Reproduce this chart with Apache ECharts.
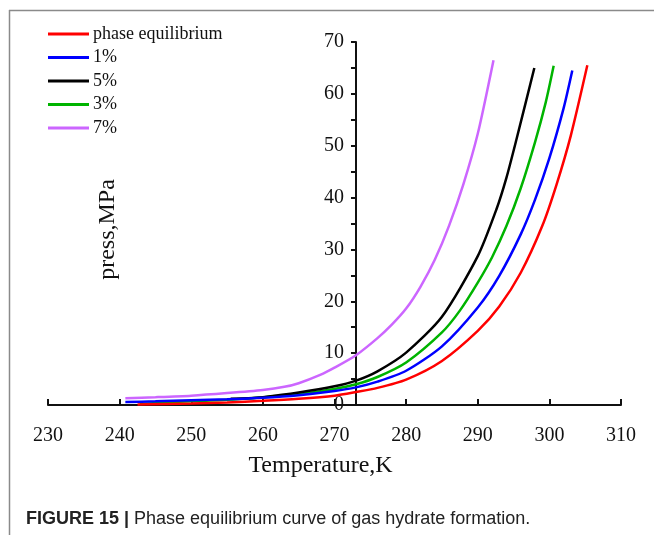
<!DOCTYPE html>
<html>
<head>
<meta charset="utf-8">
<script src="https://cdn.jsdelivr.net/npm/echarts@6/dist/echarts.min.js"></script>
<style>html,body{margin:0;padding:0;background:#fff}#c{width:654px;height:535px}</style>
</head>
<body>
<div id="c"></div>
<script>
// ---- data ----
const seriesNames = ['phase equilibrium', '1%', '5%', '3%', '7%'];
const seriesColors = ['#ff0000', '#0000ff', '#000000', '#00b400', '#cc66ff'];

const tPhase = [242.5, 250, 255, 260, 265, 270, 273, 276, 280, 285, 290, 293, 296, 299, 301, 303, 305.3];
const pPhase = [0.1, 0.3, 0.5, 0.8, 1.2, 1.8, 2.5, 3.3, 4.9, 8.5, 14.3, 19, 25.5, 34.5, 42.5, 52, 65.5];

const t1 = [240.8, 245, 250, 255, 260, 265, 270, 273, 276, 280, 285, 290, 293, 296, 298, 300, 302, 303.2];
const p1 = [0.6, 0.7, 0.9, 1.1, 1.4, 1.9, 2.7, 3.4, 4.5, 6.6, 11.3, 18.8, 24.9, 32.9, 39.6, 47.6, 57.3, 64.5];

const t5 = [255.5, 258, 260, 265, 270, 273, 276, 280, 285, 290, 292.6, 294, 295.4, 297.9];
const p5 = [1.2, 1.3, 1.5, 2.4, 3.6, 4.7, 6.5, 10.1, 17, 28.7, 37.7, 43.8, 51.2, 65];

const t3 = [242.8, 245, 250, 255, 260, 265, 270, 273, 276, 280, 285, 287.5, 290, 292, 294, 296, 298, 299.5, 300.6];
const p3 = [0.2, 0.4, 0.7, 1.0, 1.5, 2.1, 3.1, 4.0, 5.4, 8.2, 14, 18.2, 23.6, 28.5, 34.5, 41.8, 50.7, 58.4, 65.4];

const t7 = [240.8, 245, 250, 255, 260, 263, 265, 268, 270, 273, 276, 278, 280, 282, 284, 286, 288, 290, 292.2];
const p7 = [1.3, 1.5, 1.8, 2.3, 2.9, 3.5, 4.2, 5.8, 7.2, 9.6, 12.9, 15.5, 18.6, 22.8, 28, 34.6, 42.6, 52.3, 66.5];

const xMin = 230, xMax = 310, xInterval = 10;
const yMin = 0, yMax = 70, yInterval = 10;
const yAxisAtT = 273;

const xTitle = 'Temperature,K';
const yTitle = 'press,MPa';
const captionBold = 'FIGURE 15 |';
const captionText = ' Phase equilibrium curve of gas hydrate formation.';

// ---- chart ----
const W = 654, H = 535;
const gridLeft = 48, gridRight = 33, gridTop = 42, gridBottom = 130;
const plotW = W - gridLeft - gridRight;
const yOffset = -((yAxisAtT - xMin) / (xMax - xMin)) * plotW;

const allT = [tPhase, t1, t5, t3, t7];
const allP = [pPhase, p1, p5, p3, p7];
const serif = '"Liberation Serif", "DejaVu Serif", serif';
const sans = '"Liberation Sans", Arial, sans-serif';

const chart = echarts.init(document.getElementById('c'), null, {renderer: 'canvas'});
chart.setOption({
  backgroundColor: '#fff',
  animation: false,
  title: {
    text: '{b|' + captionBold + '}{r|' + captionText + '}',
    left: 26, top: 510, padding: 0,
    textStyle: {
      fontWeight: 'normal',
      rich: {
        b: {fontFamily: sans, fontWeight: 'bold', fontSize: 18, color: '#222'},
        r: {fontFamily: sans, fontWeight: 'normal', fontSize: 18, color: '#222'}
      }
    }
  },
  graphic: [
    {type: 'line', shape: {x1: 9, y1: 10.5, x2: W, y2: 10.5}, style: {stroke: '#8a8a8a', lineWidth: 1.5}, silent: true},
    {type: 'line', shape: {x1: 9.5, y1: 10, x2: 9.5, y2: H}, style: {stroke: '#8a8a8a', lineWidth: 1.5}, silent: true}
  ],
  legend: {
    orient: 'vertical',
    left: 48, top: 25, padding: 0,
    icon: 'rect',
    itemWidth: 41, itemHeight: 3, itemGap: 5.5,
    data: seriesNames,
    textStyle: {fontFamily: serif, fontSize: 18, color: '#111', lineHeight: 18, padding: [0, 0, 0, -1]}
  },
  grid: {left: gridLeft, right: gridRight, top: gridTop, bottom: gridBottom, containLabel: false},
  xAxis: {
    type: 'value', min: xMin, max: xMax, interval: xInterval,
    name: xTitle, nameLocation: 'middle', nameGap: 49,
    nameTextStyle: {fontFamily: serif, fontSize: 24, color: '#111', padding: [0, 28, 0, 0]},
    axisLine: {show: true, lineStyle: {color: '#111', width: 2}},
    axisTick: {show: true, inside: true, length: 6, lineStyle: {color: '#111', width: 2}},
    axisLabel: {fontFamily: serif, fontSize: 20, color: '#111', margin: 21},
    splitLine: {show: false}
  },
  yAxis: {
    type: 'value', min: yMin, max: yMax, interval: yInterval,
    position: 'left', offset: yOffset,
    name: yTitle, nameLocation: 'middle', nameGap: 236, nameRotate: 90,
    nameTextStyle: {fontFamily: serif, fontSize: 24, color: '#111', padding: [0, 12, 0, 0]},
    axisLine: {show: true, lineStyle: {color: '#111', width: 2}},
    axisTick: {show: true, length: 5, lineStyle: {color: '#111', width: 2}},
    minorTick: {show: true, splitNumber: 2, length: 5, lineStyle: {color: '#111', width: 2}},
    axisLabel: {fontFamily: serif, fontSize: 20, color: '#111', margin: 12},
    splitLine: {show: false}, minorSplitLine: {show: false}
  },
  series: seriesNames.map((n, i) => ({
    name: n, type: 'line', smooth: 0.25, symbol: 'none', showSymbol: false,
    color: seriesColors[i],
    lineStyle: {color: seriesColors[i], width: 2.5},
    data: allT[i].map((t, j) => [t, allP[i][j]]),
    z: 5 - i
  }))
});
</script>
</body>
</html>
